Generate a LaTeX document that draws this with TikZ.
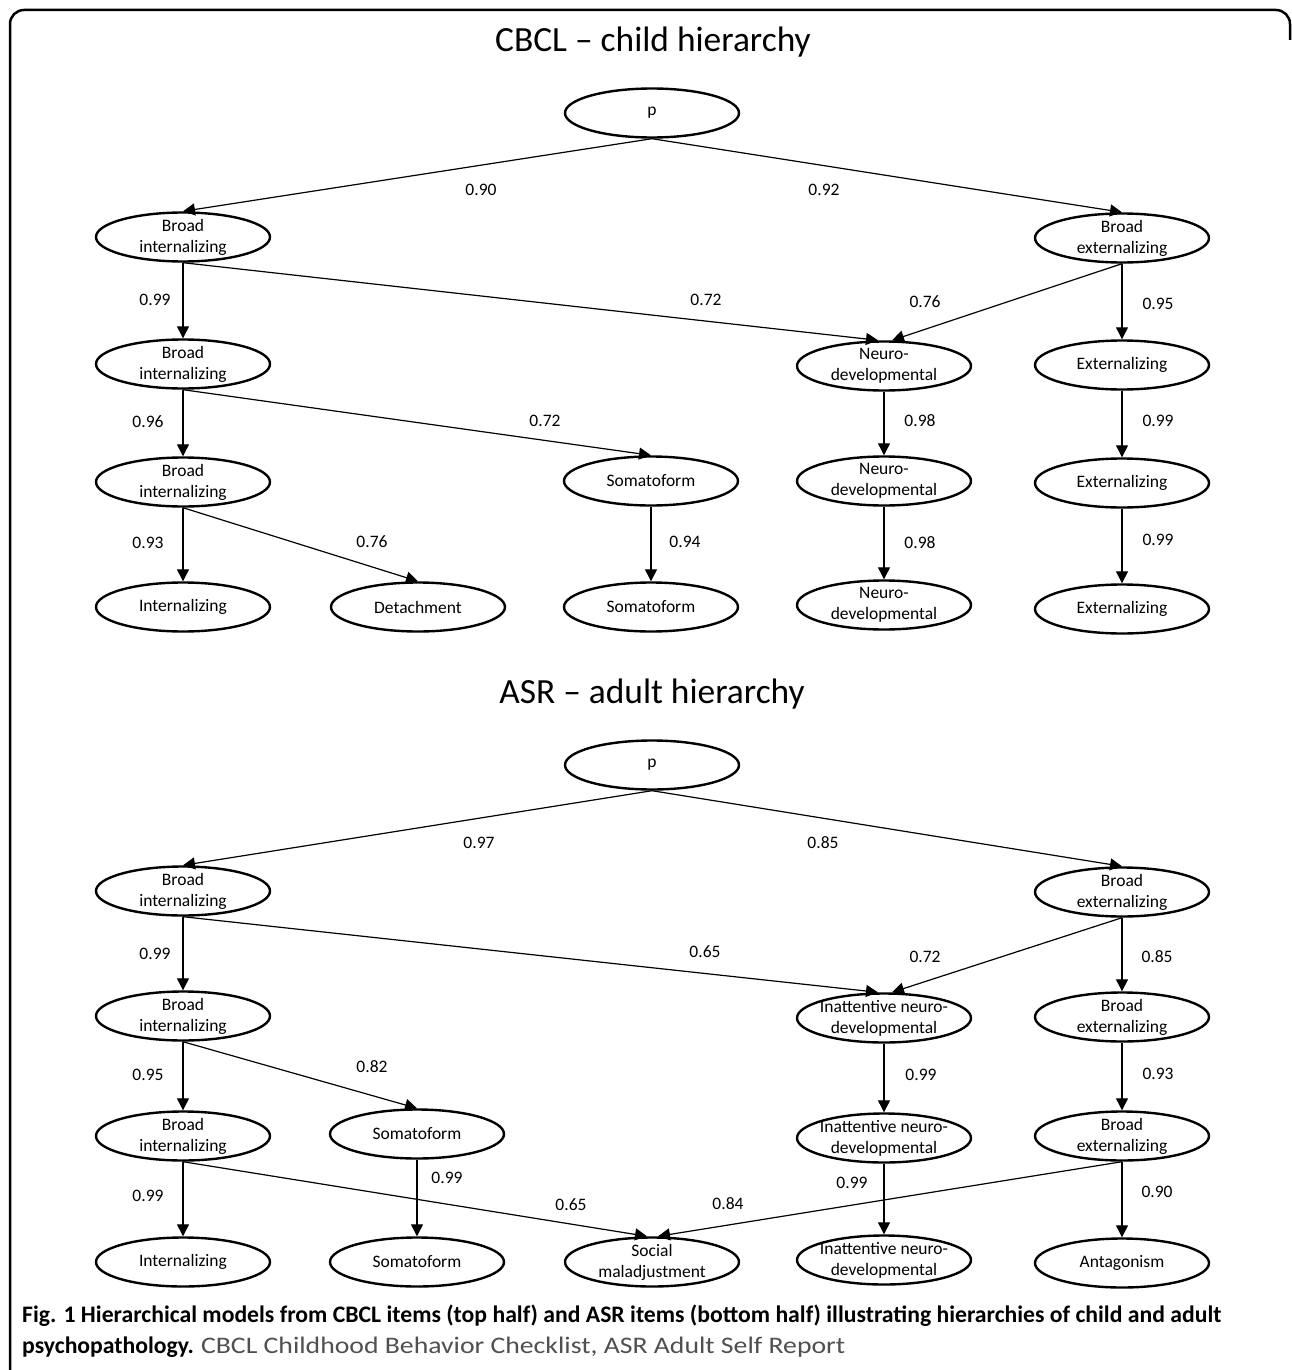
\documentclass[tikz,border=0pt]{standalone}
\usepackage{fontspec}
\setmainfont{Carlito}
\usetikzlibrary{shapes.geometric,arrows.meta}
\definecolor{capgray}{RGB}{80,80,80}
\tikzset{
 ell/.style={ellipse,draw,line width=2.4pt,minimum width=174pt,minimum height=49pt,inner sep=0pt},
 txt/.style={align=center,inner sep=0pt,font=\fontsize{17.5}{21}\selectfont},
 num/.style={inner sep=0pt,font=\fontsize{17.5}{21}\selectfont},
 conn/.style={line width=1.2pt,-{Triangle[length=12pt,width=12pt]}},
 ttl/.style={inner sep=0pt,font=\fontsize{35.4}{42}\selectfont},
 capf/.style={inner sep=0pt,anchor=base west,font=\fontsize{23.7}{28}\selectfont},
}
\newcommand\enode[3]{\node[ell] (#1) at (#2) {}; \node[txt] (#1t) at (#1) {#3};}
\begin{document}
\begin{tikzpicture}[x=1pt,y=-1pt]
\useasboundingbox (0,0) rectangle (1292,1370);
\fill[white] (0,0) rectangle (1292,1370);
% frame
\draw[line width=2.5pt,rounded corners=14pt] (10,1372) -- (10,10) -- (1290,10) -- (1290,40);

% ===== top =====
\node[ttl] (ttop) at (653,42) {CBCL – child hierarchy};
\enode{tp}{652,113}{p}
\enode{tbia}{183,237}{Broad\\internalizing}
\enode{tbea}{1122,238}{Broad\\externalizing}
\enode{tbib}{183,364}{Broad\\internalizing}
\enode{tnda}{884,366}{Neuro-\\developmental}
\enode{texa}{1122,365}{Externalizing}
\enode{tbic}{183,482}{Broad\\internalizing}
\enode{tsoa}{651,481}{Somatoform}
\enode{tndb}{884,481}{Neuro-\\developmental}
\enode{texb}{1122,483}{Externalizing}
\enode{tin}{183,607}{Internalizing}
\enode{tde}{418,607}{Detachment}
\enode{tsob}{651,607}{Somatoform}
\enode{tndc}{884,605}{Neuro-\\developmental}
\enode{texc}{1122,609}{Externalizing}

\draw[conn] (tp.south) -- (tbia.north);
\draw[conn] (tp.south) -- (tbea.north);
\draw[conn] (tbia.south) -- (tbib.north);
\draw[conn] (tbia.south) -- ([xshift=-6pt]tnda.north);
\draw[conn] (tbea.south) -- ([xshift=8pt]tnda.north);
\draw[conn] (tbea.south) -- (texa.north);
\draw[conn] (tbib.south) -- (tbic.north);
\draw[conn] (tbib.south) -- (tsoa.north);
\draw[conn] (tnda.south) -- (tndb.north);
\draw[conn] (texa.south) -- (texb.north);
\draw[conn] (tbic.south) -- (tin.north);
\draw[conn] (tbic.south) -- (tde.north);
\draw[conn] (tsoa.south) -- (tsob.north);
\draw[conn] (tndb.south) -- (tndc.north);
\draw[conn] (texb.south) -- (texc.north);

\node[num] (l01) at (481,190) {0.90};
\node[num] (l02) at (824,190) {0.92};
\node[num] (l03) at (155,300) {0.99};
\node[num] (l04) at (706,300) {0.72};
\node[num] (l05) at (925,302) {0.76};
\node[num] (l06) at (1158,304) {0.95};
\node[num] (l07) at (148,422) {0.96};
\node[num] (l08) at (545,421) {0.72};
\node[num] (l09) at (920,421) {0.98};
\node[num] (l10) at (1158,421) {0.99};
\node[num] (l11) at (148,543) {0.93};
\node[num] (l12) at (372,542) {0.76};
\node[num] (l13) at (685,542) {0.94};
\node[num] (l14) at (920,543) {0.98};
\node[num] (l15) at (1158,540) {0.99};

% ===== bottom =====
\node[ttl] (tbot) at (652,694) {ASR – adult hierarchy};
\enode{bp}{652,765}{p}
\enode{bbia}{183,891}{Broad\\internalizing}
\enode{bbea}{1122,892}{Broad\\externalizing}
\enode{bbib}{183,1016}{Broad\\internalizing}
\enode{bina}{884,1018}{Inattentive neuro-\\developmental}
\enode{bbeb}{1122,1017}{Broad\\externalizing}
\enode{bbic}{183,1136}{Broad\\internalizing}
\enode{bsoa}{417,1134}{Somatoform}
\enode{binb}{884,1138}{Inattentive neuro-\\developmental}
\enode{bbec}{1122,1136}{Broad\\externalizing}
\enode{bin}{183,1262}{Internalizing}
\enode{bsob}{417,1262}{Somatoform}
\enode{bsm}{652,1262}{Social\\maladjustment}
\enode{binc}{884,1260}{Inattentive neuro-\\developmental}
\enode{ban}{1122,1263}{Antagonism}

\draw[conn] (bp.south) -- (bbia.north);
\draw[conn] (bp.south) -- (bbea.north);
\draw[conn] (bbia.south) -- (bbib.north);
\draw[conn] (bbia.south) -- ([xshift=-6pt]bina.north);
\draw[conn] (bbea.south) -- ([xshift=8pt]bina.north);
\draw[conn] (bbea.south) -- (bbeb.north);
\draw[conn] (bbib.south) -- (bbic.north);
\draw[conn] (bbib.south) -- (bsoa.north);
\draw[conn] (bina.south) -- (binb.north);
\draw[conn] (bbeb.south) -- (bbec.north);
\draw[conn] (bbic.south) -- (bin.north);
\draw[conn] (bbic.south) -- ([xshift=-5pt]bsm.north);
\draw[conn] (bsoa.south) -- (bsob.north);
\draw[conn] (binb.south) -- (binc.north);
\draw[conn] (bbec.south) -- ([xshift=6pt]bsm.north);
\draw[conn] (bbec.south) -- (ban.north);

\node[num] (m01) at (479,843) {0.97};
\node[num] (m02) at (823,843) {0.85};
\node[num] (m03) at (155,954) {0.99};
\node[num] (m04) at (705,952) {0.65};
\node[num] (m05) at (925,957) {0.72};
\node[num] (m06) at (1157,957) {0.85};
\node[num] (m07) at (148,1075) {0.95};
\node[num] (m08) at (372,1067) {0.82};
\node[num] (m09) at (921,1075) {0.99};
\node[num] (m10) at (1158,1074) {0.93};
\node[num] (m11) at (148,1196) {0.99};
\node[num] (m12) at (447,1178) {0.99};
\node[num] (m13) at (571,1205) {0.65};
\node[num] (m14) at (728,1204) {0.84};
\node[num] (m15) at (852,1183) {0.99};
\node[num] (m16) at (1157,1192) {0.90};

% caption
\node[capf] (cap1) at (22,1322) {\bfseries Fig. 1 Hierarchical models from CBCL items (top half) and ASR items (bottom half) illustrating hierarchies of child and adult};
\node[capf] (cap2) at (22,1353) {\bfseries psychopathology. \mdseries\color{capgray}\scalebox{1.17}[1]{CBCL Childhood Behavior Checklist, ASR Adult Self Report}};
\end{tikzpicture}
\end{document}
